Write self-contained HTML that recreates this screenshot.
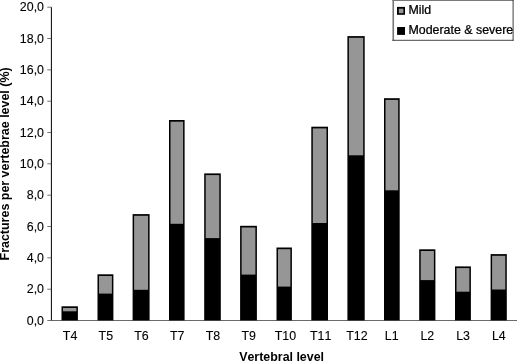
<!DOCTYPE html>
<html><head><meta charset="utf-8"><title>Fractures per vertebrae level</title>
<style>
html,body{margin:0;padding:0;background:#fff;}
body{width:517px;height:361px;overflow:hidden;}
svg{display:block;}
text{font-family:"Liberation Sans",Arial,Helvetica,sans-serif;font-size:12px;fill:#000;stroke:#000;stroke-width:0.1px;font-kerning:none;}
.lg{stroke-width:0.25px;}
.b{font-weight:bold;stroke:none;}
</style></head><body>
<svg width="517" height="361" viewBox="0 0 517 361">
<rect x="0" y="0" width="517" height="361" fill="#fff"/>

<rect x="61.5" y="306.3" width="16.4" height="14.5" fill="#000"/>
<rect x="63.0" y="308.0" width="13.4" height="3.3" fill="#969696"/>
<rect x="97.5" y="274.3" width="15.9" height="46.5" fill="#000"/>
<rect x="99.0" y="276.0" width="12.9" height="17.6" fill="#969696"/>
<rect x="132.6" y="214.1" width="17.0" height="106.7" fill="#000"/>
<rect x="134.1" y="215.8" width="14.0" height="74.0" fill="#969696"/>
<rect x="169.0" y="120.0" width="15.6" height="200.8" fill="#000"/>
<rect x="170.5" y="121.7" width="12.6" height="102.1" fill="#969696"/>
<rect x="204.2" y="173.4" width="16.6" height="147.4" fill="#000"/>
<rect x="205.7" y="175.1" width="13.6" height="63.0" fill="#969696"/>
<rect x="240.1" y="225.8" width="16.8" height="95.0" fill="#000"/>
<rect x="241.6" y="227.5" width="13.8" height="47.1" fill="#969696"/>
<rect x="276.5" y="247.5" width="15.4" height="73.3" fill="#000"/>
<rect x="278.0" y="249.2" width="12.4" height="37.4" fill="#969696"/>
<rect x="311.3" y="126.7" width="16.7" height="194.1" fill="#000"/>
<rect x="312.8" y="128.4" width="13.7" height="94.6" fill="#969696"/>
<rect x="347.4" y="36.1" width="17.3" height="284.7" fill="#000"/>
<rect x="348.9" y="37.8" width="14.3" height="117.5" fill="#969696"/>
<rect x="384.0" y="98.2" width="15.7" height="222.6" fill="#000"/>
<rect x="385.5" y="99.9" width="12.7" height="90.4" fill="#969696"/>
<rect x="419.2" y="249.3" width="16.2" height="71.5" fill="#000"/>
<rect x="420.7" y="251.0" width="13.2" height="29.1" fill="#969696"/>
<rect x="455.0" y="266.4" width="15.9" height="54.4" fill="#000"/>
<rect x="456.5" y="268.1" width="12.9" height="23.6" fill="#969696"/>
<rect x="490.6" y="254.1" width="16.2" height="66.7" fill="#000"/>
<rect x="492.1" y="255.8" width="13.2" height="33.7" fill="#969696"/>
<line x1="51.4" y1="7.2" x2="51.4" y2="320.5" stroke="#000" stroke-width="1"/>
<line x1="51" y1="320.5" x2="517" y2="320.5" stroke="#444" stroke-width="0.8"/>
<line x1="47.3" y1="320.5" x2="51.4" y2="320.5" stroke="#444" stroke-width="0.75"/>
<text text-anchor="end" transform="translate(44.00 325.00) scale(1.035 1)">0,0</text>
<line x1="47.3" y1="289.2" x2="51.4" y2="289.2" stroke="#444" stroke-width="0.75"/>
<text text-anchor="end" transform="translate(44.00 293.37) scale(1.035 1)">2,0</text>
<line x1="47.3" y1="257.8" x2="51.4" y2="257.8" stroke="#444" stroke-width="0.75"/>
<text text-anchor="end" transform="translate(44.00 262.04) scale(1.035 1)">4,0</text>
<line x1="47.3" y1="226.5" x2="51.4" y2="226.5" stroke="#444" stroke-width="0.75"/>
<text text-anchor="end" transform="translate(44.00 230.71) scale(1.035 1)">6,0</text>
<line x1="47.3" y1="195.2" x2="51.4" y2="195.2" stroke="#444" stroke-width="0.75"/>
<text text-anchor="end" transform="translate(44.00 199.38) scale(1.035 1)">8,0</text>
<line x1="47.3" y1="163.8" x2="51.4" y2="163.8" stroke="#444" stroke-width="0.75"/>
<text text-anchor="end" transform="translate(44.00 168.05) scale(1.035 1)">10,0</text>
<line x1="47.3" y1="132.5" x2="51.4" y2="132.5" stroke="#444" stroke-width="0.75"/>
<text text-anchor="end" transform="translate(44.00 136.72) scale(1.035 1)">12,0</text>
<line x1="47.3" y1="101.2" x2="51.4" y2="101.2" stroke="#444" stroke-width="0.75"/>
<text text-anchor="end" transform="translate(44.00 105.39) scale(1.035 1)">14,0</text>
<line x1="47.3" y1="69.9" x2="51.4" y2="69.9" stroke="#444" stroke-width="0.75"/>
<text text-anchor="end" transform="translate(44.00 74.06) scale(1.035 1)">16,0</text>
<line x1="47.3" y1="38.5" x2="51.4" y2="38.5" stroke="#444" stroke-width="0.75"/>
<text text-anchor="end" transform="translate(44.00 42.73) scale(1.035 1)">18,0</text>
<line x1="47.3" y1="7.2" x2="51.4" y2="7.2" stroke="#444" stroke-width="0.75"/>
<text text-anchor="end" transform="translate(44.00 11.40) scale(1.035 1)">20,0</text>
<text text-anchor="middle" transform="translate(70.06 339.80) scale(1.035 1)">T4</text>
<text text-anchor="middle" transform="translate(105.80 339.80) scale(1.035 1)">T5</text>
<text text-anchor="middle" transform="translate(141.53 339.80) scale(1.035 1)">T6</text>
<text text-anchor="middle" transform="translate(177.25 339.80) scale(1.035 1)">T7</text>
<text text-anchor="middle" transform="translate(212.99 339.80) scale(1.035 1)">T8</text>
<text text-anchor="middle" transform="translate(248.72 339.80) scale(1.035 1)">T9</text>
<text text-anchor="middle" transform="translate(285.34 339.80) scale(1.035 1)">T10</text>
<text text-anchor="middle" transform="translate(320.67 339.80) scale(1.035 1)">T11</text>
<text text-anchor="middle" transform="translate(356.90 339.80) scale(1.035 1)">T12</text>
<text text-anchor="middle" transform="translate(391.63 339.80) scale(1.035 1)">L1</text>
<text text-anchor="middle" transform="translate(427.36 339.80) scale(1.035 1)">L2</text>
<text text-anchor="middle" transform="translate(463.09 339.80) scale(1.035 1)">L3</text>
<text text-anchor="middle" transform="translate(498.82 339.80) scale(1.035 1)">L4</text>
<text class="b" text-anchor="middle" transform="translate(281.60 360.90) scale(1.035 1)">Vertebral level</text>
<text class="b" text-anchor="middle" transform="translate(9.30 163.90) rotate(-90) scale(1.039 1)">Fractures per vertebrae level (%)</text>
<rect x="392.4" y="0" width="121" height="40.6" fill="#fff"/>
<line x1="392.4" y1="0.5" x2="513.4" y2="0.5" stroke="#7a7a7a" stroke-width="1"/>
<line x1="393.25" y1="0" x2="393.25" y2="40.7" stroke="#777" stroke-width="1.6"/>
<line x1="392.4" y1="40.3" x2="513.5" y2="40.3" stroke="#333" stroke-width="0.9"/>
<line x1="513.1" y1="0" x2="513.1" y2="40.7" stroke="#000" stroke-width="0.75"/>
<rect x="397.0" y="6.9" width="8" height="7.9" fill="#000"/>
<rect x="398.8" y="8.7" width="4.6" height="4.5" fill="#969696"/>
<rect x="397.1" y="27" width="7.9" height="7.9" fill="#000"/>
<text class="lg" transform="translate(408.40 13.60) scale(1.035 1)">Mild</text>
<text class="lg" transform="translate(408.40 33.70) scale(1.035 1)">Moderate &amp; severe</text>
</svg>
</body></html>
